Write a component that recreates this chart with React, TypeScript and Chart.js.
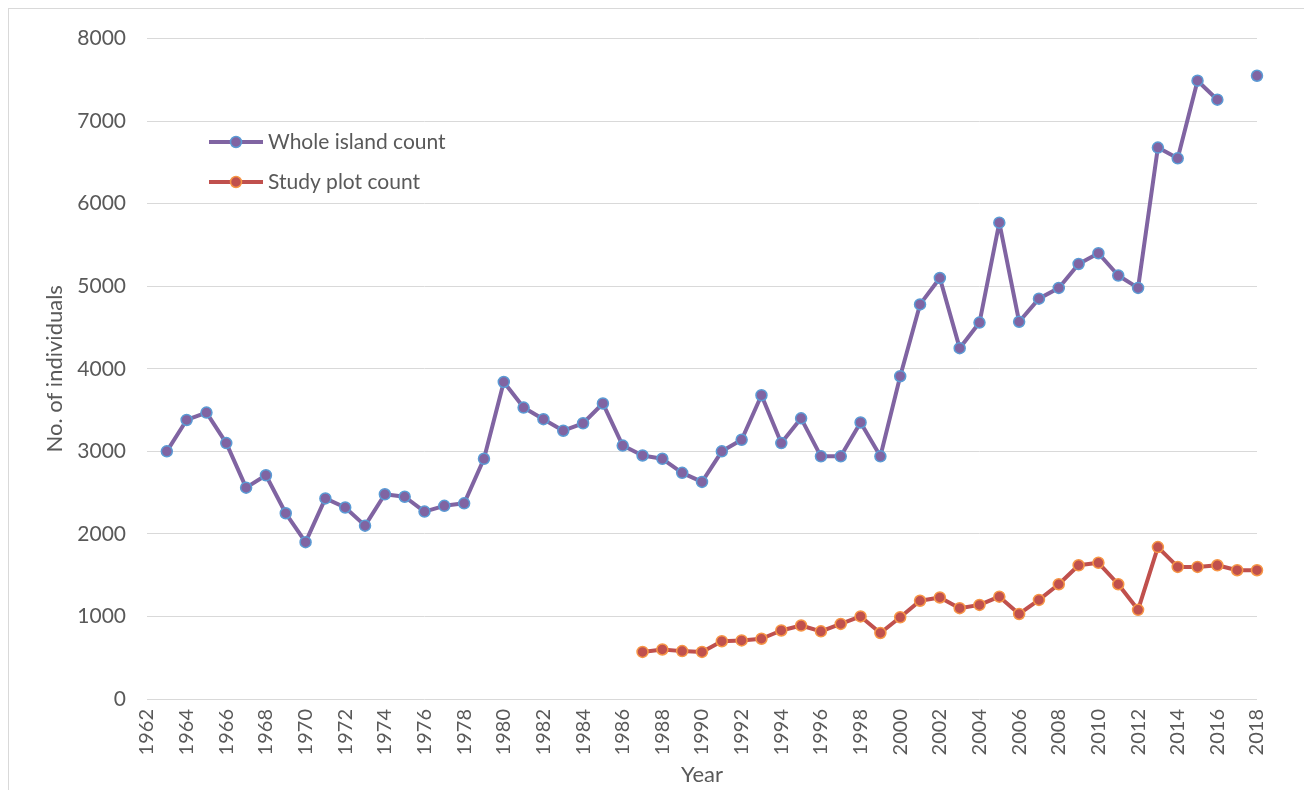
import React, { useEffect, useRef } from "react";
import { Chart, registerables } from "chart.js";

Chart.register(...registerables);

const years: string[] = [];
for (let y = 1962; y <= 2018; y++) years.push(String(y));

// 1962 .. 2018 (1962 has no data)
const wholeIsland: (number | null)[] = [
  null, 3000, 3380, 3470, 3100, 2560, 2710, 2250, 1900, 2430,
  2320, 2100, 2480, 2450, 2270, 2340, 2370, 2910, 3840, 3530,
  3390, 3250, 3340, 3580, 3070, 2950, 2910, 2740, 2630, 3000,
  3140, 3680, 3100, 3400, 2940, 2940, 3350, 2940, 3910, 4780,
  5100, 4250, 4560, 5770, 4570, 4850, 4980, 5270, 5400, 5130,
  4980, 6680, 6550, 7490, 7260, null, 7550,
];

const studyPlot: (number | null)[] = [
  null, null, null, null, null, null, null, null, null, null,
  null, null, null, null, null, null, null, null, null, null,
  null, null, null, null, null, 570, 600, 580, 570, 700,
  710, 730, 830, 890, 820, 910, 1000, 800, 990, 1190,
  1230, 1100, 1140, 1240, 1030, 1200, 1390, 1620, 1650, 1390,
  1080, 1840, 1600, 1600, 1620, 1560, 1560,
];

const seriesNames = ["Whole island count", "Study plot count"];
const lineColors = ["#8064A2", "#C0504D"];
const markerBorders = ["#5B9BD5", "#F79646"];

const TEXT = "#595959";
const FONT = "Lato, 'Open Sans', sans-serif";

const legendPlugin = {
  id: "customLegend",
  afterDraw(chart: any) {
    const ctx = chart.ctx;
    ctx.save();
    const entries = [
      { y: 137, i: 0 },
      { y: 177, i: 1 },
    ];
    for (const e of entries) {
      ctx.strokeStyle = lineColors[e.i];
      ctx.lineWidth = 4;
      ctx.beginPath();
      ctx.moveTo(200, e.y);
      ctx.lineTo(254, e.y);
      ctx.stroke();
      ctx.beginPath();
      ctx.arc(227, e.y, 5.5, 0, Math.PI * 2);
      ctx.fillStyle = lineColors[e.i];
      ctx.fill();
      ctx.lineWidth = 1.5;
      ctx.strokeStyle = markerBorders[e.i];
      ctx.stroke();
      ctx.fillStyle = TEXT;
      ctx.font = `21px ${FONT}`;
      ctx.textBaseline = "middle";
      ctx.textAlign = "left";
      ctx.fillText(seriesNames[e.i], 259, e.y);
    }
    ctx.restore();
  },
};

export default function App() {
  const ref = useRef<HTMLCanvasElement | null>(null);

  useEffect(() => {
    document.documentElement.style.overflow = "hidden";
    const canvas = ref.current;
    if (!canvas) return;
    const chart = new Chart(canvas, {
      type: "line",
      data: {
        labels: years,
        datasets: [
          {
            label: seriesNames[0],
            data: wholeIsland,
            borderColor: lineColors[0],
            backgroundColor: lineColors[0],
            borderWidth: 4,
            borderJoinStyle: "round",
            pointRadius: 5.5,
            pointBorderWidth: 1.5,
            pointBackgroundColor: lineColors[0],
            pointBorderColor: markerBorders[0],
            tension: 0,
            spanGaps: false,
          },
          {
            label: seriesNames[1],
            data: studyPlot,
            borderColor: lineColors[1],
            backgroundColor: lineColors[1],
            borderWidth: 4,
            borderJoinStyle: "round",
            pointRadius: 5.5,
            pointBorderWidth: 1.5,
            pointBackgroundColor: lineColors[1],
            pointBorderColor: markerBorders[1],
            tension: 0,
            spanGaps: false,
          },
        ],
      },
      options: {
        responsive: false,
        animation: false,
        layout: { padding: { left: 33, right: 46, top: 20, bottom: 0 } },
        plugins: {
          legend: { display: false },
          tooltip: { enabled: false },
        },
        scales: {
          x: {
            type: "category",
            offset: false,
            grid: { display: false, drawTicks: false },
            border: { display: false },
            ticks: {
              autoSkip: false,
              maxRotation: 90,
              minRotation: 90,
              padding: 10,
              color: TEXT,
              font: { family: FONT, size: 20 },
              callback: (_v: any, i: number) => (i % 2 === 0 ? years[i] : ""),
            },
            title: {
              display: true,
              text: "Year",
              color: TEXT,
              font: { family: FONT, size: 22 },
              padding: { top: 0, bottom: 2 },
            },
            afterFit: (scale: any) => {
              scale.height = 91;
            },
          },
          y: {
            min: 0,
            max: 8000,
            ticks: {
              stepSize: 1000,
              padding: 21,
              color: TEXT,
              font: { family: FONT, size: 21 },
              callback: (v: any) => String(v),
            },
            grid: { color: "#D9D9D9", lineWidth: 1, drawTicks: false },
            border: { display: false },
            title: {
              display: true,
              text: "No. of individuals",
              color: TEXT,
              font: { family: FONT, size: 22 },
              padding: 0,
            },
            afterFit: (scale: any) => {
              scale.width = 105;
            },
          },
        },
      },
      plugins: [legendPlugin],
    });
    return () => chart.destroy();
  }, []);

  return (
    <div
      style={{
        width: 1298,
        height: 800,
        border: "1px solid #D9D9D9",
        boxSizing: "border-box",
        background: "#fff",
      }}
    >
      <canvas
        ref={ref}
        width={1294}
        height={785}
        style={{ display: "block", width: 1294, height: 785, marginTop: -4 }}
      />
    </div>
  );
}
